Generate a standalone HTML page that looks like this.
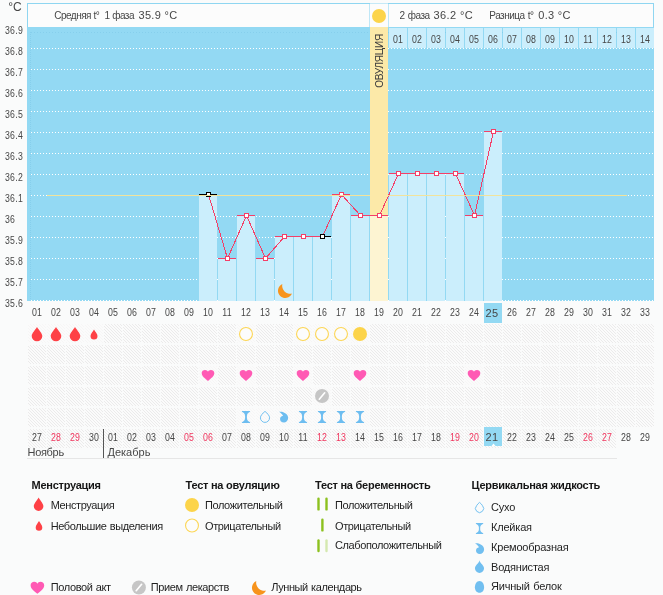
<!DOCTYPE html>
<html><head><meta charset="utf-8"><style>
html,body{margin:0;padding:0;}
body{width:663px;height:595px;overflow:hidden;background:#fafbfb;position:relative;font-family:"Liberation Sans", sans-serif;}
svg{position:absolute;left:0;top:0;}
.t{position:absolute;white-space:nowrap;line-height:1;}
#tx{position:absolute;left:0;top:0;width:663px;height:595px;will-change:transform;}
</style></head><body>
<svg width="663" height="595" viewBox="0 0 663 595" shape-rendering="auto">
<rect x="27" y="3" width="627" height="25" fill="#8fd6f1" />
<rect x="28" y="4" width="341" height="23" fill="#fcfcfc" />
<rect x="370" y="4" width="18" height="23" fill="#fcfcfc" />
<rect x="389" y="4" width="264" height="23" fill="#fcfcfc" />
<rect x="369" y="4" width="1" height="23" fill="#bfe7f7" />
<rect x="388" y="4" width="1" height="23" fill="#bfe7f7" />
<rect x="370" y="3" width="18" height="1" fill="#c5e9f7" />
<rect x="27" y="27" width="627" height="274" fill="#93d9f3" />
<line x1="30.5" y1="32" x2="30.5" y2="300" stroke="#86cfec" stroke-dasharray="1 1" />
<line x1="31" y1="32.5" x2="654" y2="32.5" stroke="#86cfec" stroke-dasharray="1 2" />
<line x1="31" y1="48.5" x2="654" y2="48.5" stroke="#ffffff" stroke-dasharray="1 2" />
<line x1="31" y1="69.5" x2="654" y2="69.5" stroke="#ffffff" stroke-dasharray="1 2" />
<line x1="31" y1="90.5" x2="654" y2="90.5" stroke="#ffffff" stroke-dasharray="1 2" />
<line x1="31" y1="111.5" x2="654" y2="111.5" stroke="#ffffff" stroke-dasharray="1 2" />
<line x1="31" y1="132.5" x2="654" y2="132.5" stroke="#ffffff" stroke-dasharray="1 2" />
<line x1="31" y1="153.5" x2="654" y2="153.5" stroke="#ffffff" stroke-dasharray="1 2" />
<line x1="31" y1="174.5" x2="654" y2="174.5" stroke="#ffffff" stroke-dasharray="1 2" />
<line x1="31" y1="195.5" x2="654" y2="195.5" stroke="#ffffff" stroke-dasharray="1 2" />
<line x1="31" y1="216.5" x2="654" y2="216.5" stroke="#ffffff" stroke-dasharray="1 2" />
<line x1="31" y1="237.5" x2="654" y2="237.5" stroke="#ffffff" stroke-dasharray="1 2" />
<line x1="31" y1="258.5" x2="654" y2="258.5" stroke="#ffffff" stroke-dasharray="1 2" />
<line x1="31" y1="279.5" x2="654" y2="279.5" stroke="#ffffff" stroke-dasharray="1 2" />
<line x1="31" y1="300.5" x2="654" y2="300.5" stroke="#ffffff" stroke-dasharray="1 2" />
<rect x="389" y="28" width="18" height="20" fill="#cbeefc" />
<rect x="408" y="28" width="18" height="20" fill="#cbeefc" />
<rect x="427" y="28" width="18" height="20" fill="#cbeefc" />
<rect x="446" y="28" width="18" height="20" fill="#cbeefc" />
<rect x="465" y="28" width="18" height="20" fill="#cbeefc" />
<rect x="484" y="28" width="18" height="20" fill="#cbeefc" />
<rect x="503" y="28" width="18" height="20" fill="#cbeefc" />
<rect x="522" y="28" width="18" height="20" fill="#cbeefc" />
<rect x="541" y="28" width="18" height="20" fill="#cbeefc" />
<rect x="560" y="28" width="18" height="20" fill="#cbeefc" />
<rect x="579" y="28" width="18" height="20" fill="#cbeefc" />
<rect x="598" y="28" width="18" height="20" fill="#cbeefc" />
<rect x="617" y="28" width="18" height="20" fill="#cbeefc" />
<rect x="636" y="28" width="18" height="20" fill="#cbeefc" />
<rect x="370" y="27" width="18" height="274" fill="#fce9a8" />
<rect x="199" y="195" width="18" height="106" fill="#cbeefc" />
<rect x="218" y="259" width="18" height="42" fill="#cbeefc" />
<rect x="237" y="216" width="18" height="85" fill="#cbeefc" />
<rect x="256" y="259" width="18" height="42" fill="#cbeefc" />
<rect x="275" y="237" width="18" height="64" fill="#cbeefc" />
<rect x="294" y="237" width="18" height="64" fill="#cbeefc" />
<rect x="313" y="237" width="18" height="64" fill="#cbeefc" />
<rect x="332" y="195" width="18" height="106" fill="#cbeefc" />
<rect x="351" y="216" width="18" height="85" fill="#cbeefc" />
<rect x="370" y="216" width="18" height="85" fill="#fdf4d2" />
<rect x="389" y="174" width="18" height="127" fill="#cbeefc" />
<rect x="408" y="174" width="18" height="127" fill="#cbeefc" />
<rect x="427" y="174" width="18" height="127" fill="#cbeefc" />
<rect x="446" y="174" width="18" height="127" fill="#cbeefc" />
<rect x="465" y="216" width="18" height="85" fill="#cbeefc" />
<rect x="484" y="132" width="18" height="169" fill="#cbeefc" />
<rect x="199" y="194" width="18" height="1" fill="#000" />
<rect x="218" y="258" width="18" height="1" fill="#f43f68" />
<rect x="237" y="215" width="18" height="1" fill="#f43f68" />
<rect x="256" y="258" width="18" height="1" fill="#f43f68" />
<rect x="275" y="236" width="18" height="1" fill="#f43f68" />
<rect x="294" y="236" width="18" height="1" fill="#f43f68" />
<rect x="313" y="236" width="18" height="1" fill="#000" />
<rect x="332" y="194" width="18" height="1" fill="#f43f68" />
<rect x="351" y="215" width="18" height="1" fill="#f43f68" />
<rect x="370" y="215" width="18" height="1" fill="#f43f68" />
<rect x="389" y="173" width="18" height="1" fill="#f43f68" />
<rect x="408" y="173" width="18" height="1" fill="#f43f68" />
<rect x="427" y="173" width="18" height="1" fill="#f43f68" />
<rect x="446" y="173" width="18" height="1" fill="#f43f68" />
<rect x="465" y="215" width="18" height="1" fill="#f43f68" />
<rect x="484" y="131" width="18" height="1" fill="#f43f68" />
<polyline points="208.5,194.5 227.5,258.5 246.5,215.5 265.5,258.5 284.5,236.5 303.5,236.5 322.5,236.5 341.5,194.5 360.5,215.5 379.5,215.5 398.5,173.5 417.5,173.5 436.5,173.5 455.5,173.5 474.5,215.5 493.5,131.5" fill="none" stroke="#f43f68" stroke-width="1" shape-rendering="crispEdges"/>
<rect x="206.5" y="192.5" width="4" height="4" fill="#fff" stroke="#000" stroke-width="1"/>
<rect x="225.5" y="256.5" width="4" height="4" fill="#fff" stroke="#f43f68" stroke-width="1"/>
<rect x="244.5" y="213.5" width="4" height="4" fill="#fff" stroke="#f43f68" stroke-width="1"/>
<rect x="263.5" y="256.5" width="4" height="4" fill="#fff" stroke="#f43f68" stroke-width="1"/>
<rect x="282.5" y="234.5" width="4" height="4" fill="#fff" stroke="#f43f68" stroke-width="1"/>
<rect x="301.5" y="234.5" width="4" height="4" fill="#fff" stroke="#f43f68" stroke-width="1"/>
<rect x="320.5" y="234.5" width="4" height="4" fill="#fff" stroke="#000" stroke-width="1"/>
<rect x="339.5" y="192.5" width="4" height="4" fill="#fff" stroke="#f43f68" stroke-width="1"/>
<rect x="358.5" y="213.5" width="4" height="4" fill="#fff" stroke="#f43f68" stroke-width="1"/>
<rect x="377.5" y="213.5" width="4" height="4" fill="#fff" stroke="#f43f68" stroke-width="1"/>
<rect x="396.5" y="171.5" width="4" height="4" fill="#fff" stroke="#f43f68" stroke-width="1"/>
<rect x="415.5" y="171.5" width="4" height="4" fill="#fff" stroke="#f43f68" stroke-width="1"/>
<rect x="434.5" y="171.5" width="4" height="4" fill="#fff" stroke="#f43f68" stroke-width="1"/>
<rect x="453.5" y="171.5" width="4" height="4" fill="#fff" stroke="#f43f68" stroke-width="1"/>
<rect x="472.5" y="213.5" width="4" height="4" fill="#fff" stroke="#f43f68" stroke-width="1"/>
<rect x="491.5" y="129.5" width="4" height="4" fill="#fff" stroke="#f43f68" stroke-width="1"/>
<rect x="47" y="195" width="323" height="1" fill="#f2e39b" />
<rect x="388" y="195" width="239" height="1" fill="#f2e39b" />
<path d="M282.30,284.00 A7.3,7.3 0 1 0 292.00,293.50 A8.1,8.1 0 0 1 282.30,284.00 Z" fill="#f7941d"/>
<rect x="484" y="303" width="18" height="20" fill="#93d9f3" />
<defs><pattern id="hp" x="0" y="0" width="3" height="3" patternUnits="userSpaceOnUse"><rect x="0" y="0" width="3" height="3" fill="#fbfbfb"/><rect x="0" y="0" width="1" height="1" fill="#ebebeb"/><rect x="1" y="1" width="1" height="1" fill="#ebebeb"/><rect x="2" y="2" width="1" height="1" fill="#ebebeb"/></pattern></defs>
<defs><pattern id="hp2" x="0" y="0" width="3" height="3" patternUnits="userSpaceOnUse"><rect x="0" y="0" width="3" height="3" fill="#fbfbfb"/><rect x="0" y="0" width="1" height="1" fill="#f6f6f6"/><rect x="1" y="1" width="1" height="1" fill="#f6f6f6"/><rect x="2" y="2" width="1" height="1" fill="#f6f6f6"/></pattern></defs>
<rect x="28" y="324" width="18" height="19" fill="url(#hp2)" shape-rendering="crispEdges"/>
<rect x="47" y="324" width="18" height="19" fill="url(#hp2)" shape-rendering="crispEdges"/>
<rect x="66" y="324" width="18" height="19" fill="url(#hp2)" shape-rendering="crispEdges"/>
<rect x="85" y="324" width="18" height="19" fill="url(#hp2)" shape-rendering="crispEdges"/>
<rect x="104" y="324" width="18" height="19" fill="url(#hp)" shape-rendering="crispEdges"/>
<rect x="123" y="324" width="18" height="19" fill="url(#hp)" shape-rendering="crispEdges"/>
<rect x="142" y="324" width="18" height="19" fill="url(#hp)" shape-rendering="crispEdges"/>
<rect x="161" y="324" width="18" height="19" fill="url(#hp)" shape-rendering="crispEdges"/>
<rect x="180" y="324" width="18" height="19" fill="url(#hp)" shape-rendering="crispEdges"/>
<rect x="199" y="324" width="18" height="19" fill="url(#hp)" shape-rendering="crispEdges"/>
<rect x="218" y="324" width="18" height="19" fill="url(#hp)" shape-rendering="crispEdges"/>
<rect x="237" y="324" width="18" height="19" fill="url(#hp2)" shape-rendering="crispEdges"/>
<rect x="256" y="324" width="18" height="19" fill="url(#hp)" shape-rendering="crispEdges"/>
<rect x="275" y="324" width="18" height="19" fill="url(#hp)" shape-rendering="crispEdges"/>
<rect x="294" y="324" width="18" height="19" fill="url(#hp2)" shape-rendering="crispEdges"/>
<rect x="313" y="324" width="18" height="19" fill="url(#hp2)" shape-rendering="crispEdges"/>
<rect x="332" y="324" width="18" height="19" fill="url(#hp2)" shape-rendering="crispEdges"/>
<rect x="351" y="324" width="18" height="19" fill="url(#hp2)" shape-rendering="crispEdges"/>
<rect x="370" y="324" width="18" height="19" fill="url(#hp)" shape-rendering="crispEdges"/>
<rect x="389" y="324" width="18" height="19" fill="url(#hp)" shape-rendering="crispEdges"/>
<rect x="408" y="324" width="18" height="19" fill="url(#hp)" shape-rendering="crispEdges"/>
<rect x="427" y="324" width="18" height="19" fill="url(#hp)" shape-rendering="crispEdges"/>
<rect x="446" y="324" width="18" height="19" fill="url(#hp)" shape-rendering="crispEdges"/>
<rect x="465" y="324" width="18" height="19" fill="url(#hp)" shape-rendering="crispEdges"/>
<rect x="484" y="324" width="18" height="19" fill="url(#hp)" shape-rendering="crispEdges"/>
<rect x="503" y="324" width="18" height="19" fill="url(#hp)" shape-rendering="crispEdges"/>
<rect x="522" y="324" width="18" height="19" fill="url(#hp)" shape-rendering="crispEdges"/>
<rect x="541" y="324" width="18" height="19" fill="url(#hp)" shape-rendering="crispEdges"/>
<rect x="560" y="324" width="18" height="19" fill="url(#hp)" shape-rendering="crispEdges"/>
<rect x="579" y="324" width="18" height="19" fill="url(#hp)" shape-rendering="crispEdges"/>
<rect x="598" y="324" width="18" height="19" fill="url(#hp)" shape-rendering="crispEdges"/>
<rect x="617" y="324" width="18" height="19" fill="url(#hp)" shape-rendering="crispEdges"/>
<rect x="636" y="324" width="18" height="19" fill="url(#hp)" shape-rendering="crispEdges"/>
<rect x="28" y="345" width="18" height="19" fill="url(#hp)" shape-rendering="crispEdges"/>
<rect x="47" y="345" width="18" height="19" fill="url(#hp)" shape-rendering="crispEdges"/>
<rect x="66" y="345" width="18" height="19" fill="url(#hp)" shape-rendering="crispEdges"/>
<rect x="85" y="345" width="18" height="19" fill="url(#hp)" shape-rendering="crispEdges"/>
<rect x="104" y="345" width="18" height="19" fill="url(#hp)" shape-rendering="crispEdges"/>
<rect x="123" y="345" width="18" height="19" fill="url(#hp)" shape-rendering="crispEdges"/>
<rect x="142" y="345" width="18" height="19" fill="url(#hp)" shape-rendering="crispEdges"/>
<rect x="161" y="345" width="18" height="19" fill="url(#hp)" shape-rendering="crispEdges"/>
<rect x="180" y="345" width="18" height="19" fill="url(#hp)" shape-rendering="crispEdges"/>
<rect x="199" y="345" width="18" height="19" fill="url(#hp)" shape-rendering="crispEdges"/>
<rect x="218" y="345" width="18" height="19" fill="url(#hp)" shape-rendering="crispEdges"/>
<rect x="237" y="345" width="18" height="19" fill="url(#hp)" shape-rendering="crispEdges"/>
<rect x="256" y="345" width="18" height="19" fill="url(#hp)" shape-rendering="crispEdges"/>
<rect x="275" y="345" width="18" height="19" fill="url(#hp)" shape-rendering="crispEdges"/>
<rect x="294" y="345" width="18" height="19" fill="url(#hp)" shape-rendering="crispEdges"/>
<rect x="313" y="345" width="18" height="19" fill="url(#hp)" shape-rendering="crispEdges"/>
<rect x="332" y="345" width="18" height="19" fill="url(#hp)" shape-rendering="crispEdges"/>
<rect x="351" y="345" width="18" height="19" fill="url(#hp)" shape-rendering="crispEdges"/>
<rect x="370" y="345" width="18" height="19" fill="url(#hp)" shape-rendering="crispEdges"/>
<rect x="389" y="345" width="18" height="19" fill="url(#hp)" shape-rendering="crispEdges"/>
<rect x="408" y="345" width="18" height="19" fill="url(#hp)" shape-rendering="crispEdges"/>
<rect x="427" y="345" width="18" height="19" fill="url(#hp)" shape-rendering="crispEdges"/>
<rect x="446" y="345" width="18" height="19" fill="url(#hp)" shape-rendering="crispEdges"/>
<rect x="465" y="345" width="18" height="19" fill="url(#hp)" shape-rendering="crispEdges"/>
<rect x="484" y="345" width="18" height="19" fill="url(#hp)" shape-rendering="crispEdges"/>
<rect x="503" y="345" width="18" height="19" fill="url(#hp)" shape-rendering="crispEdges"/>
<rect x="522" y="345" width="18" height="19" fill="url(#hp)" shape-rendering="crispEdges"/>
<rect x="541" y="345" width="18" height="19" fill="url(#hp)" shape-rendering="crispEdges"/>
<rect x="560" y="345" width="18" height="19" fill="url(#hp)" shape-rendering="crispEdges"/>
<rect x="579" y="345" width="18" height="19" fill="url(#hp)" shape-rendering="crispEdges"/>
<rect x="598" y="345" width="18" height="19" fill="url(#hp)" shape-rendering="crispEdges"/>
<rect x="617" y="345" width="18" height="19" fill="url(#hp)" shape-rendering="crispEdges"/>
<rect x="636" y="345" width="18" height="19" fill="url(#hp)" shape-rendering="crispEdges"/>
<rect x="28" y="366" width="18" height="19" fill="url(#hp)" shape-rendering="crispEdges"/>
<rect x="47" y="366" width="18" height="19" fill="url(#hp)" shape-rendering="crispEdges"/>
<rect x="66" y="366" width="18" height="19" fill="url(#hp)" shape-rendering="crispEdges"/>
<rect x="85" y="366" width="18" height="19" fill="url(#hp)" shape-rendering="crispEdges"/>
<rect x="104" y="366" width="18" height="19" fill="url(#hp)" shape-rendering="crispEdges"/>
<rect x="123" y="366" width="18" height="19" fill="url(#hp)" shape-rendering="crispEdges"/>
<rect x="142" y="366" width="18" height="19" fill="url(#hp)" shape-rendering="crispEdges"/>
<rect x="161" y="366" width="18" height="19" fill="url(#hp)" shape-rendering="crispEdges"/>
<rect x="180" y="366" width="18" height="19" fill="url(#hp)" shape-rendering="crispEdges"/>
<rect x="199" y="366" width="18" height="19" fill="url(#hp2)" shape-rendering="crispEdges"/>
<rect x="218" y="366" width="18" height="19" fill="url(#hp)" shape-rendering="crispEdges"/>
<rect x="237" y="366" width="18" height="19" fill="url(#hp2)" shape-rendering="crispEdges"/>
<rect x="256" y="366" width="18" height="19" fill="url(#hp)" shape-rendering="crispEdges"/>
<rect x="275" y="366" width="18" height="19" fill="url(#hp)" shape-rendering="crispEdges"/>
<rect x="294" y="366" width="18" height="19" fill="url(#hp2)" shape-rendering="crispEdges"/>
<rect x="313" y="366" width="18" height="19" fill="url(#hp)" shape-rendering="crispEdges"/>
<rect x="332" y="366" width="18" height="19" fill="url(#hp)" shape-rendering="crispEdges"/>
<rect x="351" y="366" width="18" height="19" fill="url(#hp2)" shape-rendering="crispEdges"/>
<rect x="370" y="366" width="18" height="19" fill="url(#hp)" shape-rendering="crispEdges"/>
<rect x="389" y="366" width="18" height="19" fill="url(#hp)" shape-rendering="crispEdges"/>
<rect x="408" y="366" width="18" height="19" fill="url(#hp)" shape-rendering="crispEdges"/>
<rect x="427" y="366" width="18" height="19" fill="url(#hp)" shape-rendering="crispEdges"/>
<rect x="446" y="366" width="18" height="19" fill="url(#hp)" shape-rendering="crispEdges"/>
<rect x="465" y="366" width="18" height="19" fill="url(#hp2)" shape-rendering="crispEdges"/>
<rect x="484" y="366" width="18" height="19" fill="url(#hp)" shape-rendering="crispEdges"/>
<rect x="503" y="366" width="18" height="19" fill="url(#hp)" shape-rendering="crispEdges"/>
<rect x="522" y="366" width="18" height="19" fill="url(#hp)" shape-rendering="crispEdges"/>
<rect x="541" y="366" width="18" height="19" fill="url(#hp)" shape-rendering="crispEdges"/>
<rect x="560" y="366" width="18" height="19" fill="url(#hp)" shape-rendering="crispEdges"/>
<rect x="579" y="366" width="18" height="19" fill="url(#hp)" shape-rendering="crispEdges"/>
<rect x="598" y="366" width="18" height="19" fill="url(#hp)" shape-rendering="crispEdges"/>
<rect x="617" y="366" width="18" height="19" fill="url(#hp)" shape-rendering="crispEdges"/>
<rect x="636" y="366" width="18" height="19" fill="url(#hp)" shape-rendering="crispEdges"/>
<rect x="28" y="387" width="18" height="19" fill="url(#hp)" shape-rendering="crispEdges"/>
<rect x="47" y="387" width="18" height="19" fill="url(#hp)" shape-rendering="crispEdges"/>
<rect x="66" y="387" width="18" height="19" fill="url(#hp)" shape-rendering="crispEdges"/>
<rect x="85" y="387" width="18" height="19" fill="url(#hp)" shape-rendering="crispEdges"/>
<rect x="104" y="387" width="18" height="19" fill="url(#hp)" shape-rendering="crispEdges"/>
<rect x="123" y="387" width="18" height="19" fill="url(#hp)" shape-rendering="crispEdges"/>
<rect x="142" y="387" width="18" height="19" fill="url(#hp)" shape-rendering="crispEdges"/>
<rect x="161" y="387" width="18" height="19" fill="url(#hp)" shape-rendering="crispEdges"/>
<rect x="180" y="387" width="18" height="19" fill="url(#hp)" shape-rendering="crispEdges"/>
<rect x="199" y="387" width="18" height="19" fill="url(#hp)" shape-rendering="crispEdges"/>
<rect x="218" y="387" width="18" height="19" fill="url(#hp)" shape-rendering="crispEdges"/>
<rect x="237" y="387" width="18" height="19" fill="url(#hp)" shape-rendering="crispEdges"/>
<rect x="256" y="387" width="18" height="19" fill="url(#hp)" shape-rendering="crispEdges"/>
<rect x="275" y="387" width="18" height="19" fill="url(#hp)" shape-rendering="crispEdges"/>
<rect x="294" y="387" width="18" height="19" fill="url(#hp)" shape-rendering="crispEdges"/>
<rect x="313" y="387" width="18" height="19" fill="url(#hp2)" shape-rendering="crispEdges"/>
<rect x="332" y="387" width="18" height="19" fill="url(#hp)" shape-rendering="crispEdges"/>
<rect x="351" y="387" width="18" height="19" fill="url(#hp)" shape-rendering="crispEdges"/>
<rect x="370" y="387" width="18" height="19" fill="url(#hp)" shape-rendering="crispEdges"/>
<rect x="389" y="387" width="18" height="19" fill="url(#hp)" shape-rendering="crispEdges"/>
<rect x="408" y="387" width="18" height="19" fill="url(#hp)" shape-rendering="crispEdges"/>
<rect x="427" y="387" width="18" height="19" fill="url(#hp)" shape-rendering="crispEdges"/>
<rect x="446" y="387" width="18" height="19" fill="url(#hp)" shape-rendering="crispEdges"/>
<rect x="465" y="387" width="18" height="19" fill="url(#hp)" shape-rendering="crispEdges"/>
<rect x="484" y="387" width="18" height="19" fill="url(#hp)" shape-rendering="crispEdges"/>
<rect x="503" y="387" width="18" height="19" fill="url(#hp)" shape-rendering="crispEdges"/>
<rect x="522" y="387" width="18" height="19" fill="url(#hp)" shape-rendering="crispEdges"/>
<rect x="541" y="387" width="18" height="19" fill="url(#hp)" shape-rendering="crispEdges"/>
<rect x="560" y="387" width="18" height="19" fill="url(#hp)" shape-rendering="crispEdges"/>
<rect x="579" y="387" width="18" height="19" fill="url(#hp)" shape-rendering="crispEdges"/>
<rect x="598" y="387" width="18" height="19" fill="url(#hp)" shape-rendering="crispEdges"/>
<rect x="617" y="387" width="18" height="19" fill="url(#hp)" shape-rendering="crispEdges"/>
<rect x="636" y="387" width="18" height="19" fill="url(#hp)" shape-rendering="crispEdges"/>
<rect x="28" y="408" width="18" height="19" fill="url(#hp)" shape-rendering="crispEdges"/>
<rect x="47" y="408" width="18" height="19" fill="url(#hp)" shape-rendering="crispEdges"/>
<rect x="66" y="408" width="18" height="19" fill="url(#hp)" shape-rendering="crispEdges"/>
<rect x="85" y="408" width="18" height="19" fill="url(#hp)" shape-rendering="crispEdges"/>
<rect x="104" y="408" width="18" height="19" fill="url(#hp)" shape-rendering="crispEdges"/>
<rect x="123" y="408" width="18" height="19" fill="url(#hp)" shape-rendering="crispEdges"/>
<rect x="142" y="408" width="18" height="19" fill="url(#hp)" shape-rendering="crispEdges"/>
<rect x="161" y="408" width="18" height="19" fill="url(#hp)" shape-rendering="crispEdges"/>
<rect x="180" y="408" width="18" height="19" fill="url(#hp)" shape-rendering="crispEdges"/>
<rect x="199" y="408" width="18" height="19" fill="url(#hp)" shape-rendering="crispEdges"/>
<rect x="218" y="408" width="18" height="19" fill="url(#hp)" shape-rendering="crispEdges"/>
<rect x="237" y="408" width="18" height="19" fill="url(#hp2)" shape-rendering="crispEdges"/>
<rect x="256" y="408" width="18" height="19" fill="url(#hp2)" shape-rendering="crispEdges"/>
<rect x="275" y="408" width="18" height="19" fill="url(#hp2)" shape-rendering="crispEdges"/>
<rect x="294" y="408" width="18" height="19" fill="url(#hp2)" shape-rendering="crispEdges"/>
<rect x="313" y="408" width="18" height="19" fill="url(#hp2)" shape-rendering="crispEdges"/>
<rect x="332" y="408" width="18" height="19" fill="url(#hp2)" shape-rendering="crispEdges"/>
<rect x="351" y="408" width="18" height="19" fill="url(#hp2)" shape-rendering="crispEdges"/>
<rect x="370" y="408" width="18" height="19" fill="url(#hp)" shape-rendering="crispEdges"/>
<rect x="389" y="408" width="18" height="19" fill="url(#hp)" shape-rendering="crispEdges"/>
<rect x="408" y="408" width="18" height="19" fill="url(#hp)" shape-rendering="crispEdges"/>
<rect x="427" y="408" width="18" height="19" fill="url(#hp)" shape-rendering="crispEdges"/>
<rect x="446" y="408" width="18" height="19" fill="url(#hp)" shape-rendering="crispEdges"/>
<rect x="465" y="408" width="18" height="19" fill="url(#hp)" shape-rendering="crispEdges"/>
<rect x="484" y="408" width="18" height="19" fill="url(#hp)" shape-rendering="crispEdges"/>
<rect x="503" y="408" width="18" height="19" fill="url(#hp)" shape-rendering="crispEdges"/>
<rect x="522" y="408" width="18" height="19" fill="url(#hp)" shape-rendering="crispEdges"/>
<rect x="541" y="408" width="18" height="19" fill="url(#hp)" shape-rendering="crispEdges"/>
<rect x="560" y="408" width="18" height="19" fill="url(#hp)" shape-rendering="crispEdges"/>
<rect x="579" y="408" width="18" height="19" fill="url(#hp)" shape-rendering="crispEdges"/>
<rect x="598" y="408" width="18" height="19" fill="url(#hp)" shape-rendering="crispEdges"/>
<rect x="617" y="408" width="18" height="19" fill="url(#hp)" shape-rendering="crispEdges"/>
<rect x="636" y="408" width="18" height="19" fill="url(#hp)" shape-rendering="crispEdges"/>
<rect x="28" y="429" width="18" height="19" fill="url(#hp)" shape-rendering="crispEdges"/>
<rect x="47" y="429" width="18" height="19" fill="url(#hp)" shape-rendering="crispEdges"/>
<rect x="66" y="429" width="18" height="19" fill="url(#hp)" shape-rendering="crispEdges"/>
<rect x="85" y="429" width="18" height="19" fill="url(#hp)" shape-rendering="crispEdges"/>
<rect x="104" y="429" width="18" height="19" fill="url(#hp)" shape-rendering="crispEdges"/>
<rect x="123" y="429" width="18" height="19" fill="url(#hp)" shape-rendering="crispEdges"/>
<rect x="142" y="429" width="18" height="19" fill="url(#hp)" shape-rendering="crispEdges"/>
<rect x="161" y="429" width="18" height="19" fill="url(#hp)" shape-rendering="crispEdges"/>
<rect x="180" y="429" width="18" height="19" fill="url(#hp)" shape-rendering="crispEdges"/>
<rect x="199" y="429" width="18" height="19" fill="url(#hp)" shape-rendering="crispEdges"/>
<rect x="218" y="429" width="18" height="19" fill="url(#hp)" shape-rendering="crispEdges"/>
<rect x="237" y="429" width="18" height="19" fill="url(#hp)" shape-rendering="crispEdges"/>
<rect x="256" y="429" width="18" height="19" fill="url(#hp)" shape-rendering="crispEdges"/>
<rect x="275" y="429" width="18" height="19" fill="url(#hp)" shape-rendering="crispEdges"/>
<rect x="294" y="429" width="18" height="19" fill="url(#hp)" shape-rendering="crispEdges"/>
<rect x="313" y="429" width="18" height="19" fill="url(#hp)" shape-rendering="crispEdges"/>
<rect x="332" y="429" width="18" height="19" fill="url(#hp)" shape-rendering="crispEdges"/>
<rect x="351" y="429" width="18" height="19" fill="url(#hp)" shape-rendering="crispEdges"/>
<rect x="370" y="429" width="18" height="19" fill="url(#hp)" shape-rendering="crispEdges"/>
<rect x="389" y="429" width="18" height="19" fill="url(#hp)" shape-rendering="crispEdges"/>
<rect x="408" y="429" width="18" height="19" fill="url(#hp)" shape-rendering="crispEdges"/>
<rect x="427" y="429" width="18" height="19" fill="url(#hp)" shape-rendering="crispEdges"/>
<rect x="446" y="429" width="18" height="19" fill="url(#hp)" shape-rendering="crispEdges"/>
<rect x="465" y="429" width="18" height="19" fill="url(#hp)" shape-rendering="crispEdges"/>
<rect x="484" y="429" width="18" height="19" fill="url(#hp)" shape-rendering="crispEdges"/>
<rect x="503" y="429" width="18" height="19" fill="url(#hp)" shape-rendering="crispEdges"/>
<rect x="522" y="429" width="18" height="19" fill="url(#hp)" shape-rendering="crispEdges"/>
<rect x="541" y="429" width="18" height="19" fill="url(#hp)" shape-rendering="crispEdges"/>
<rect x="560" y="429" width="18" height="19" fill="url(#hp)" shape-rendering="crispEdges"/>
<rect x="579" y="429" width="18" height="19" fill="url(#hp)" shape-rendering="crispEdges"/>
<rect x="598" y="429" width="18" height="19" fill="url(#hp)" shape-rendering="crispEdges"/>
<path d="M37,326.90000000000003 C38.855,330.06800000000004 42.3,333.085 42.3,336.0 A5.3,5.3 0 0 1 31.7,336.0 C31.7,333.085 35.145,330.06800000000004 37,326.90000000000003 Z" fill="#fe4146"/>
<path d="M56,326.90000000000003 C57.855,330.06800000000004 61.3,333.085 61.3,336.0 A5.3,5.3 0 0 1 50.7,336.0 C50.7,333.085 54.145,330.06800000000004 56,326.90000000000003 Z" fill="#fe4146"/>
<path d="M75,326.90000000000003 C76.855,330.06800000000004 80.3,333.085 80.3,336.0 A5.3,5.3 0 0 1 69.7,336.0 C69.7,333.085 73.145,330.06800000000004 75,326.90000000000003 Z" fill="#fe4146"/>
<path d="M94,329.4 C95.225,331.59999999999997 97.5,333.97499999999997 97.5,335.9 A3.5,3.5 0 0 1 90.5,335.9 C90.5,333.97499999999997 92.775,331.59999999999997 94,329.4 Z" fill="#fe4146"/>
<circle cx="246" cy="334" r="6.45" fill="#fcfcfc" stroke="#fcd655" stroke-width="1.1"/>
<circle cx="303" cy="334" r="6.45" fill="#fcfcfc" stroke="#fcd655" stroke-width="1.1"/>
<circle cx="322" cy="334" r="6.45" fill="#fcfcfc" stroke="#fcd655" stroke-width="1.1"/>
<circle cx="341" cy="334" r="6.45" fill="#fcfcfc" stroke="#fcd655" stroke-width="1.1"/>
<circle cx="360" cy="334" r="7" fill="#fcd44a"/>
<path d="M208.00,380.90 C204.85,378.40 201.70,376.40 201.70,373.10 C201.70,371.10 203.27,369.90 205.06,369.90 C206.53,369.90 207.58,370.70 208.00,371.70 C208.42,370.70 209.47,369.90 210.94,369.90 C212.72,369.90 214.30,371.10 214.30,373.10 C214.30,376.40 211.15,378.40 208.00,380.90 Z" fill="#ff5ab4"/>
<path d="M246.00,380.90 C242.85,378.40 239.70,376.40 239.70,373.10 C239.70,371.10 241.27,369.90 243.06,369.90 C244.53,369.90 245.58,370.70 246.00,371.70 C246.42,370.70 247.47,369.90 248.94,369.90 C250.72,369.90 252.30,371.10 252.30,373.10 C252.30,376.40 249.15,378.40 246.00,380.90 Z" fill="#ff5ab4"/>
<path d="M303.00,380.90 C299.85,378.40 296.70,376.40 296.70,373.10 C296.70,371.10 298.27,369.90 300.06,369.90 C301.53,369.90 302.58,370.70 303.00,371.70 C303.42,370.70 304.47,369.90 305.94,369.90 C307.72,369.90 309.30,371.10 309.30,373.10 C309.30,376.40 306.15,378.40 303.00,380.90 Z" fill="#ff5ab4"/>
<path d="M360.00,380.90 C356.85,378.40 353.70,376.40 353.70,373.10 C353.70,371.10 355.27,369.90 357.06,369.90 C358.53,369.90 359.58,370.70 360.00,371.70 C360.42,370.70 361.47,369.90 362.94,369.90 C364.72,369.90 366.30,371.10 366.30,373.10 C366.30,376.40 363.15,378.40 360.00,380.90 Z" fill="#ff5ab4"/>
<path d="M474.00,380.90 C470.85,378.40 467.70,376.40 467.70,373.10 C467.70,371.10 469.27,369.90 471.06,369.90 C472.53,369.90 473.58,370.70 474.00,371.70 C474.42,370.70 475.47,369.90 476.94,369.90 C478.72,369.90 480.30,371.10 480.30,373.10 C480.30,376.40 477.15,378.40 474.00,380.90 Z" fill="#ff5ab4"/>
<circle cx="322" cy="396" r="7" fill="#c6c6c6"/><line x1="319.3" y1="399.2" x2="324.7" y2="392.8" stroke="#fff" stroke-width="1.7" stroke-linecap="round"/>
<path d="M241.90,411.00 L250.10,411.00 L250.10,411.80 C248.30,412.50 247.00,413.80 246.90,415.80 L246.90,418.20 C247.00,420.20 248.30,421.50 250.10,422.20 L250.10,423.00 L241.90,423.00 L241.90,422.20 C243.70,421.50 245.00,420.20 245.10,418.20 L245.10,415.80 C245.00,413.80 243.70,412.50 241.90,411.80 Z" fill="#6dbdf0"/>
<path d="M298.90,411.00 L307.10,411.00 L307.10,411.80 C305.30,412.50 304.00,413.80 303.90,415.80 L303.90,418.20 C304.00,420.20 305.30,421.50 307.10,422.20 L307.10,423.00 L298.90,423.00 L298.90,422.20 C300.70,421.50 302.00,420.20 302.10,418.20 L302.10,415.80 C302.00,413.80 300.70,412.50 298.90,411.80 Z" fill="#6dbdf0"/>
<path d="M317.90,411.00 L326.10,411.00 L326.10,411.80 C324.30,412.50 323.00,413.80 322.90,415.80 L322.90,418.20 C323.00,420.20 324.30,421.50 326.10,422.20 L326.10,423.00 L317.90,423.00 L317.90,422.20 C319.70,421.50 321.00,420.20 321.10,418.20 L321.10,415.80 C321.00,413.80 319.70,412.50 317.90,411.80 Z" fill="#6dbdf0"/>
<path d="M336.90,411.00 L345.10,411.00 L345.10,411.80 C343.30,412.50 342.00,413.80 341.90,415.80 L341.90,418.20 C342.00,420.20 343.30,421.50 345.10,422.20 L345.10,423.00 L336.90,423.00 L336.90,422.20 C338.70,421.50 340.00,420.20 340.10,418.20 L340.10,415.80 C340.00,413.80 338.70,412.50 336.90,411.80 Z" fill="#6dbdf0"/>
<path d="M355.90,411.00 L364.10,411.00 L364.10,411.80 C362.30,412.50 361.00,413.80 360.90,415.80 L360.90,418.20 C361.00,420.20 362.30,421.50 364.10,422.20 L364.10,423.00 L355.90,423.00 L355.90,422.20 C357.70,421.50 359.00,420.20 359.10,418.20 L359.10,415.80 C359.00,413.80 357.70,412.50 355.90,411.80 Z" fill="#6dbdf0"/>
<path d="M265.00,411.40 Q267.03,412.84 268.22,414.64 A4.55,4.55 0 1 1 261.78,414.64 Q262.97,412.84 265.00,411.40 Z" fill="none" stroke="#74c2f1" stroke-width="1.0"/>
<path d="M279.05,411.70 C281.55,411.40 284.05,412.00 286.05,413.70 C287.55,415.00 288.15,416.50 288.15,418.00 C288.15,420.70 286.05,422.50 283.85,422.50 C281.55,422.50 280.05,421.00 280.05,419.00 C280.05,417.30 281.45,416.20 283.05,415.80 C282.05,414.20 280.55,412.30 279.05,411.70 Z" fill="#6dbdf0"/>
<rect x="484" y="427" width="18" height="19" fill="#93d9f3" />
<path d="M491.5,446 L493.5,443.5 L495.5,446 Z" fill="#fff"/>
<rect x="103" y="429" width="1" height="29" fill="#555" />
<rect x="27" y="458" width="590" height="1" fill="#e6e6e6" />
<circle cx="379" cy="16" r="7" fill="#fcd44a"/>
<path d="M38.6,497.4 C40.28,500.392 43.4,503.56 43.4,506.2 A4.8,4.8 0 0 1 33.800000000000004,506.2 C33.800000000000004,503.56 36.92,500.392 38.6,497.4 Z" fill="#fe4146"/>
<path d="M39,521.1 C40.155,523.212 42.3,525.5849999999999 42.3,527.4 A3.3,3.3 0 0 1 35.7,527.4 C35.7,525.5849999999999 37.845,523.212 39,521.1 Z" fill="#fe4146"/>
<circle cx="192" cy="505" r="7" fill="#fcd44a"/>
<circle cx="192" cy="525.5" r="6.45" fill="#fcfcfc" stroke="#fcd655" stroke-width="1.1"/>
<rect x="317.3" y="497.6" width="2.4" height="13" rx="1.2" fill="#8cc11f"/>
<rect x="325.3" y="497.6" width="2.4" height="13" rx="1.2" fill="#8cc11f"/>
<rect x="321.2" y="518.6" width="2.4" height="13" rx="1.2" fill="#8cc11f"/>
<rect x="317.3" y="539.3" width="2.4" height="13" rx="1.2" fill="#8cc11f"/>
<rect x="325.3" y="539.3" width="2.4" height="13" rx="1.2" fill="#d4e9b0"/>
<path d="M479.55,502.40 Q481.47,503.89 482.56,505.74 A4.05,4.05 0 1 1 476.54,505.74 Q477.63,503.89 479.55,502.40 Z" fill="none" stroke="#74c2f1" stroke-width="1.0"/>
<path d="M475.90,522.90 L483.20,522.90 L483.20,523.70 C481.40,524.40 480.30,525.70 480.20,527.38 L480.20,529.62 C480.30,531.30 481.40,532.60 483.20,533.30 L483.20,534.10 L475.90,534.10 L475.90,533.30 C477.70,532.60 478.80,531.30 478.90,529.62 L478.90,527.38 C478.80,525.70 477.70,524.40 475.90,523.70 Z" fill="#71bff0"/>
<path d="M475.00,543.20 C477.50,542.90 480.00,543.50 482.00,545.20 C483.50,546.50 484.10,548.00 484.10,549.50 C484.10,552.20 482.00,554.00 479.80,554.00 C477.50,554.00 476.00,552.50 476.00,550.50 C476.00,548.80 477.40,547.70 479.00,547.30 C478.00,545.70 476.50,543.80 475.00,543.20 Z" fill="#71bff0"/>
<path d="M479.50,560.20 C480.10,563.40 484.05,565.15 484.05,568.35 A4.55,4.55 0 0 1 474.95,568.35 C474.95,565.15 478.90,563.40 479.50,560.20 Z" fill="#71bff0"/>
<path d="M479.5,581 C482.3,581 484.1,584 484.1,587.3 C484.1,590.6 482.2,592.8 479.5,592.8 C476.8,592.8 474.9,590.6 474.9,587.3 C474.9,584 476.7,581 479.5,581 Z" fill="#71bff0"/>
<path d="M37.40,593.80 C34.00,591.07 30.60,588.89 30.60,585.29 C30.60,583.11 32.30,581.80 34.23,581.80 C35.81,581.80 36.95,582.67 37.40,583.76 C37.85,582.67 38.99,581.80 40.57,581.80 C42.50,581.80 44.20,583.11 44.20,585.29 C44.20,588.89 40.80,591.07 37.40,593.80 Z" fill="#ff5ab4"/>
<circle cx="138.9" cy="587.5" r="7" fill="#c6c6c6"/><line x1="136.20000000000002" y1="590.7" x2="141.6" y2="584.3" stroke="#fff" stroke-width="1.7" stroke-linecap="round"/>
<path d="M256.30,581.00 A7.3,7.3 0 1 0 266.00,590.50 A8.1,8.1 0 0 1 256.30,581.00 Z" fill="#f7941d"/>
</svg>
<div id="tx">
<div class="t" style="left:21.60px;width:30px;text-align:center;top:307.94px;font-size:10px;color:#464646;font-weight:normal;letter-spacing:0.2px;word-spacing:0px;transform:scaleX(0.88);transform-origin:50% 0">01</div>
<div class="t" style="left:40.60px;width:30px;text-align:center;top:307.94px;font-size:10px;color:#464646;font-weight:normal;letter-spacing:0.2px;word-spacing:0px;transform:scaleX(0.88);transform-origin:50% 0">02</div>
<div class="t" style="left:59.60px;width:30px;text-align:center;top:307.94px;font-size:10px;color:#464646;font-weight:normal;letter-spacing:0.2px;word-spacing:0px;transform:scaleX(0.88);transform-origin:50% 0">03</div>
<div class="t" style="left:78.60px;width:30px;text-align:center;top:307.94px;font-size:10px;color:#464646;font-weight:normal;letter-spacing:0.2px;word-spacing:0px;transform:scaleX(0.88);transform-origin:50% 0">04</div>
<div class="t" style="left:97.60px;width:30px;text-align:center;top:307.94px;font-size:10px;color:#464646;font-weight:normal;letter-spacing:0.2px;word-spacing:0px;transform:scaleX(0.88);transform-origin:50% 0">05</div>
<div class="t" style="left:116.60px;width:30px;text-align:center;top:307.94px;font-size:10px;color:#464646;font-weight:normal;letter-spacing:0.2px;word-spacing:0px;transform:scaleX(0.88);transform-origin:50% 0">06</div>
<div class="t" style="left:135.60px;width:30px;text-align:center;top:307.94px;font-size:10px;color:#464646;font-weight:normal;letter-spacing:0.2px;word-spacing:0px;transform:scaleX(0.88);transform-origin:50% 0">07</div>
<div class="t" style="left:154.60px;width:30px;text-align:center;top:307.94px;font-size:10px;color:#464646;font-weight:normal;letter-spacing:0.2px;word-spacing:0px;transform:scaleX(0.88);transform-origin:50% 0">08</div>
<div class="t" style="left:173.60px;width:30px;text-align:center;top:307.94px;font-size:10px;color:#464646;font-weight:normal;letter-spacing:0.2px;word-spacing:0px;transform:scaleX(0.88);transform-origin:50% 0">09</div>
<div class="t" style="left:192.60px;width:30px;text-align:center;top:307.94px;font-size:10px;color:#464646;font-weight:normal;letter-spacing:0.2px;word-spacing:0px;transform:scaleX(0.88);transform-origin:50% 0">10</div>
<div class="t" style="left:211.60px;width:30px;text-align:center;top:307.94px;font-size:10px;color:#464646;font-weight:normal;letter-spacing:0.2px;word-spacing:0px;transform:scaleX(0.88);transform-origin:50% 0">11</div>
<div class="t" style="left:230.60px;width:30px;text-align:center;top:307.94px;font-size:10px;color:#464646;font-weight:normal;letter-spacing:0.2px;word-spacing:0px;transform:scaleX(0.88);transform-origin:50% 0">12</div>
<div class="t" style="left:249.60px;width:30px;text-align:center;top:307.94px;font-size:10px;color:#464646;font-weight:normal;letter-spacing:0.2px;word-spacing:0px;transform:scaleX(0.88);transform-origin:50% 0">13</div>
<div class="t" style="left:268.60px;width:30px;text-align:center;top:307.94px;font-size:10px;color:#464646;font-weight:normal;letter-spacing:0.2px;word-spacing:0px;transform:scaleX(0.88);transform-origin:50% 0">14</div>
<div class="t" style="left:287.60px;width:30px;text-align:center;top:307.94px;font-size:10px;color:#464646;font-weight:normal;letter-spacing:0.2px;word-spacing:0px;transform:scaleX(0.88);transform-origin:50% 0">15</div>
<div class="t" style="left:306.60px;width:30px;text-align:center;top:307.94px;font-size:10px;color:#464646;font-weight:normal;letter-spacing:0.2px;word-spacing:0px;transform:scaleX(0.88);transform-origin:50% 0">16</div>
<div class="t" style="left:325.60px;width:30px;text-align:center;top:307.94px;font-size:10px;color:#464646;font-weight:normal;letter-spacing:0.2px;word-spacing:0px;transform:scaleX(0.88);transform-origin:50% 0">17</div>
<div class="t" style="left:344.60px;width:30px;text-align:center;top:307.94px;font-size:10px;color:#464646;font-weight:normal;letter-spacing:0.2px;word-spacing:0px;transform:scaleX(0.88);transform-origin:50% 0">18</div>
<div class="t" style="left:363.60px;width:30px;text-align:center;top:307.94px;font-size:10px;color:#464646;font-weight:normal;letter-spacing:0.2px;word-spacing:0px;transform:scaleX(0.88);transform-origin:50% 0">19</div>
<div class="t" style="left:382.60px;width:30px;text-align:center;top:307.94px;font-size:10px;color:#464646;font-weight:normal;letter-spacing:0.2px;word-spacing:0px;transform:scaleX(0.88);transform-origin:50% 0">20</div>
<div class="t" style="left:401.60px;width:30px;text-align:center;top:307.94px;font-size:10px;color:#464646;font-weight:normal;letter-spacing:0.2px;word-spacing:0px;transform:scaleX(0.88);transform-origin:50% 0">21</div>
<div class="t" style="left:420.60px;width:30px;text-align:center;top:307.94px;font-size:10px;color:#464646;font-weight:normal;letter-spacing:0.2px;word-spacing:0px;transform:scaleX(0.88);transform-origin:50% 0">22</div>
<div class="t" style="left:439.60px;width:30px;text-align:center;top:307.94px;font-size:10px;color:#464646;font-weight:normal;letter-spacing:0.2px;word-spacing:0px;transform:scaleX(0.88);transform-origin:50% 0">23</div>
<div class="t" style="left:458.60px;width:30px;text-align:center;top:307.94px;font-size:10px;color:#464646;font-weight:normal;letter-spacing:0.2px;word-spacing:0px;transform:scaleX(0.88);transform-origin:50% 0">24</div>
<div class="t" style="left:476.90px;width:30px;text-align:center;top:307.99px;font-size:11px;color:#464646;font-weight:normal;letter-spacing:0.3px;word-spacing:0px">25</div>
<div class="t" style="left:496.60px;width:30px;text-align:center;top:307.94px;font-size:10px;color:#464646;font-weight:normal;letter-spacing:0.2px;word-spacing:0px;transform:scaleX(0.88);transform-origin:50% 0">26</div>
<div class="t" style="left:515.60px;width:30px;text-align:center;top:307.94px;font-size:10px;color:#464646;font-weight:normal;letter-spacing:0.2px;word-spacing:0px;transform:scaleX(0.88);transform-origin:50% 0">27</div>
<div class="t" style="left:534.60px;width:30px;text-align:center;top:307.94px;font-size:10px;color:#464646;font-weight:normal;letter-spacing:0.2px;word-spacing:0px;transform:scaleX(0.88);transform-origin:50% 0">28</div>
<div class="t" style="left:553.60px;width:30px;text-align:center;top:307.94px;font-size:10px;color:#464646;font-weight:normal;letter-spacing:0.2px;word-spacing:0px;transform:scaleX(0.88);transform-origin:50% 0">29</div>
<div class="t" style="left:572.60px;width:30px;text-align:center;top:307.94px;font-size:10px;color:#464646;font-weight:normal;letter-spacing:0.2px;word-spacing:0px;transform:scaleX(0.88);transform-origin:50% 0">30</div>
<div class="t" style="left:591.60px;width:30px;text-align:center;top:307.94px;font-size:10px;color:#464646;font-weight:normal;letter-spacing:0.2px;word-spacing:0px;transform:scaleX(0.88);transform-origin:50% 0">31</div>
<div class="t" style="left:610.60px;width:30px;text-align:center;top:307.94px;font-size:10px;color:#464646;font-weight:normal;letter-spacing:0.2px;word-spacing:0px;transform:scaleX(0.88);transform-origin:50% 0">32</div>
<div class="t" style="left:629.60px;width:30px;text-align:center;top:307.94px;font-size:10px;color:#464646;font-weight:normal;letter-spacing:0.2px;word-spacing:0px;transform:scaleX(0.88);transform-origin:50% 0">33</div>
<div class="t" style="left:21.60px;width:30px;text-align:center;top:432.94px;font-size:10px;color:#464646;font-weight:normal;letter-spacing:0.2px;word-spacing:0px;transform:scaleX(0.88);transform-origin:50% 0">27</div>
<div class="t" style="left:40.60px;width:30px;text-align:center;top:432.94px;font-size:10px;color:#f0365e;font-weight:normal;letter-spacing:0.2px;word-spacing:0px;transform:scaleX(0.88);transform-origin:50% 0">28</div>
<div class="t" style="left:59.60px;width:30px;text-align:center;top:432.94px;font-size:10px;color:#f0365e;font-weight:normal;letter-spacing:0.2px;word-spacing:0px;transform:scaleX(0.88);transform-origin:50% 0">29</div>
<div class="t" style="left:78.60px;width:30px;text-align:center;top:432.94px;font-size:10px;color:#464646;font-weight:normal;letter-spacing:0.2px;word-spacing:0px;transform:scaleX(0.88);transform-origin:50% 0">30</div>
<div class="t" style="left:97.60px;width:30px;text-align:center;top:432.94px;font-size:10px;color:#464646;font-weight:normal;letter-spacing:0.2px;word-spacing:0px;transform:scaleX(0.88);transform-origin:50% 0">01</div>
<div class="t" style="left:116.60px;width:30px;text-align:center;top:432.94px;font-size:10px;color:#464646;font-weight:normal;letter-spacing:0.2px;word-spacing:0px;transform:scaleX(0.88);transform-origin:50% 0">02</div>
<div class="t" style="left:135.60px;width:30px;text-align:center;top:432.94px;font-size:10px;color:#464646;font-weight:normal;letter-spacing:0.2px;word-spacing:0px;transform:scaleX(0.88);transform-origin:50% 0">03</div>
<div class="t" style="left:154.60px;width:30px;text-align:center;top:432.94px;font-size:10px;color:#464646;font-weight:normal;letter-spacing:0.2px;word-spacing:0px;transform:scaleX(0.88);transform-origin:50% 0">04</div>
<div class="t" style="left:173.60px;width:30px;text-align:center;top:432.94px;font-size:10px;color:#f0365e;font-weight:normal;letter-spacing:0.2px;word-spacing:0px;transform:scaleX(0.88);transform-origin:50% 0">05</div>
<div class="t" style="left:192.60px;width:30px;text-align:center;top:432.94px;font-size:10px;color:#f0365e;font-weight:normal;letter-spacing:0.2px;word-spacing:0px;transform:scaleX(0.88);transform-origin:50% 0">06</div>
<div class="t" style="left:211.60px;width:30px;text-align:center;top:432.94px;font-size:10px;color:#464646;font-weight:normal;letter-spacing:0.2px;word-spacing:0px;transform:scaleX(0.88);transform-origin:50% 0">07</div>
<div class="t" style="left:230.60px;width:30px;text-align:center;top:432.94px;font-size:10px;color:#464646;font-weight:normal;letter-spacing:0.2px;word-spacing:0px;transform:scaleX(0.88);transform-origin:50% 0">08</div>
<div class="t" style="left:249.60px;width:30px;text-align:center;top:432.94px;font-size:10px;color:#464646;font-weight:normal;letter-spacing:0.2px;word-spacing:0px;transform:scaleX(0.88);transform-origin:50% 0">09</div>
<div class="t" style="left:268.60px;width:30px;text-align:center;top:432.94px;font-size:10px;color:#464646;font-weight:normal;letter-spacing:0.2px;word-spacing:0px;transform:scaleX(0.88);transform-origin:50% 0">10</div>
<div class="t" style="left:287.60px;width:30px;text-align:center;top:432.94px;font-size:10px;color:#464646;font-weight:normal;letter-spacing:0.2px;word-spacing:0px;transform:scaleX(0.88);transform-origin:50% 0">11</div>
<div class="t" style="left:306.60px;width:30px;text-align:center;top:432.94px;font-size:10px;color:#f0365e;font-weight:normal;letter-spacing:0.2px;word-spacing:0px;transform:scaleX(0.88);transform-origin:50% 0">12</div>
<div class="t" style="left:325.60px;width:30px;text-align:center;top:432.94px;font-size:10px;color:#f0365e;font-weight:normal;letter-spacing:0.2px;word-spacing:0px;transform:scaleX(0.88);transform-origin:50% 0">13</div>
<div class="t" style="left:344.60px;width:30px;text-align:center;top:432.94px;font-size:10px;color:#464646;font-weight:normal;letter-spacing:0.2px;word-spacing:0px;transform:scaleX(0.88);transform-origin:50% 0">14</div>
<div class="t" style="left:363.60px;width:30px;text-align:center;top:432.94px;font-size:10px;color:#464646;font-weight:normal;letter-spacing:0.2px;word-spacing:0px;transform:scaleX(0.88);transform-origin:50% 0">15</div>
<div class="t" style="left:382.60px;width:30px;text-align:center;top:432.94px;font-size:10px;color:#464646;font-weight:normal;letter-spacing:0.2px;word-spacing:0px;transform:scaleX(0.88);transform-origin:50% 0">16</div>
<div class="t" style="left:401.60px;width:30px;text-align:center;top:432.94px;font-size:10px;color:#464646;font-weight:normal;letter-spacing:0.2px;word-spacing:0px;transform:scaleX(0.88);transform-origin:50% 0">17</div>
<div class="t" style="left:420.60px;width:30px;text-align:center;top:432.94px;font-size:10px;color:#464646;font-weight:normal;letter-spacing:0.2px;word-spacing:0px;transform:scaleX(0.88);transform-origin:50% 0">18</div>
<div class="t" style="left:439.60px;width:30px;text-align:center;top:432.94px;font-size:10px;color:#f0365e;font-weight:normal;letter-spacing:0.2px;word-spacing:0px;transform:scaleX(0.88);transform-origin:50% 0">19</div>
<div class="t" style="left:458.60px;width:30px;text-align:center;top:432.94px;font-size:10px;color:#f0365e;font-weight:normal;letter-spacing:0.2px;word-spacing:0px;transform:scaleX(0.88);transform-origin:50% 0">20</div>
<div class="t" style="left:476.90px;width:30px;text-align:center;top:431.89px;font-size:11px;color:#464646;font-weight:normal;letter-spacing:0.3px;word-spacing:0px">21</div>
<div class="t" style="left:496.60px;width:30px;text-align:center;top:432.94px;font-size:10px;color:#464646;font-weight:normal;letter-spacing:0.2px;word-spacing:0px;transform:scaleX(0.88);transform-origin:50% 0">22</div>
<div class="t" style="left:515.60px;width:30px;text-align:center;top:432.94px;font-size:10px;color:#464646;font-weight:normal;letter-spacing:0.2px;word-spacing:0px;transform:scaleX(0.88);transform-origin:50% 0">23</div>
<div class="t" style="left:534.60px;width:30px;text-align:center;top:432.94px;font-size:10px;color:#464646;font-weight:normal;letter-spacing:0.2px;word-spacing:0px;transform:scaleX(0.88);transform-origin:50% 0">24</div>
<div class="t" style="left:553.60px;width:30px;text-align:center;top:432.94px;font-size:10px;color:#464646;font-weight:normal;letter-spacing:0.2px;word-spacing:0px;transform:scaleX(0.88);transform-origin:50% 0">25</div>
<div class="t" style="left:572.60px;width:30px;text-align:center;top:432.94px;font-size:10px;color:#f0365e;font-weight:normal;letter-spacing:0.2px;word-spacing:0px;transform:scaleX(0.88);transform-origin:50% 0">26</div>
<div class="t" style="left:591.60px;width:30px;text-align:center;top:432.94px;font-size:10px;color:#f0365e;font-weight:normal;letter-spacing:0.2px;word-spacing:0px;transform:scaleX(0.88);transform-origin:50% 0">27</div>
<div class="t" style="left:610.60px;width:30px;text-align:center;top:432.94px;font-size:10px;color:#464646;font-weight:normal;letter-spacing:0.2px;word-spacing:0px;transform:scaleX(0.88);transform-origin:50% 0">28</div>
<div class="t" style="left:629.60px;width:30px;text-align:center;top:432.94px;font-size:10px;color:#464646;font-weight:normal;letter-spacing:0.2px;word-spacing:0px;transform:scaleX(0.88);transform-origin:50% 0">29</div>
<div class="t" style="left:27.50px;top:447.19px;font-size:11px;color:#464646;font-weight:normal;letter-spacing:-0.3px;word-spacing:0px">Ноябрь</div>
<div class="t" style="left:107.50px;top:447.19px;font-size:11px;color:#464646;font-weight:normal;letter-spacing:0px;word-spacing:0px">Декабрь</div>
<div class="t" style="left:54.20px;top:11.14px;font-size:10px;color:#464646;font-weight:normal;letter-spacing:-0.5px;word-spacing:0.3px">Средняя t°&nbsp; 1 фаза</div>
<div class="t" style="left:138.50px;top:9.89px;font-size:11px;color:#464646;font-weight:normal;letter-spacing:0.3px;word-spacing:0px">35.9 °C</div>
<div class="t" style="left:399.50px;top:11.14px;font-size:10px;color:#464646;font-weight:normal;letter-spacing:-0.5px;word-spacing:1.0px">2 фаза</div>
<div class="t" style="left:433.50px;top:9.89px;font-size:11px;color:#464646;font-weight:normal;letter-spacing:0.4px;word-spacing:0px">36.2 °C</div>
<div class="t" style="left:489.30px;top:11.14px;font-size:10px;color:#464646;font-weight:normal;letter-spacing:-0.5px;word-spacing:1.0px">Разница t°</div>
<div class="t" style="left:538.30px;top:9.89px;font-size:11px;color:#464646;font-weight:normal;letter-spacing:0.3px;word-spacing:0px">0.3 °C</div>
<div class="t" style="left:382.60px;width:30px;text-align:center;top:35.14px;font-size:10px;color:#464646;font-weight:normal;letter-spacing:0.2px;word-spacing:0px;transform:scaleX(0.88);transform-origin:50% 0">01</div>
<div class="t" style="left:401.60px;width:30px;text-align:center;top:35.14px;font-size:10px;color:#464646;font-weight:normal;letter-spacing:0.2px;word-spacing:0px;transform:scaleX(0.88);transform-origin:50% 0">02</div>
<div class="t" style="left:420.60px;width:30px;text-align:center;top:35.14px;font-size:10px;color:#464646;font-weight:normal;letter-spacing:0.2px;word-spacing:0px;transform:scaleX(0.88);transform-origin:50% 0">03</div>
<div class="t" style="left:439.60px;width:30px;text-align:center;top:35.14px;font-size:10px;color:#464646;font-weight:normal;letter-spacing:0.2px;word-spacing:0px;transform:scaleX(0.88);transform-origin:50% 0">04</div>
<div class="t" style="left:458.60px;width:30px;text-align:center;top:35.14px;font-size:10px;color:#464646;font-weight:normal;letter-spacing:0.2px;word-spacing:0px;transform:scaleX(0.88);transform-origin:50% 0">05</div>
<div class="t" style="left:477.60px;width:30px;text-align:center;top:35.14px;font-size:10px;color:#464646;font-weight:normal;letter-spacing:0.2px;word-spacing:0px;transform:scaleX(0.88);transform-origin:50% 0">06</div>
<div class="t" style="left:496.60px;width:30px;text-align:center;top:35.14px;font-size:10px;color:#464646;font-weight:normal;letter-spacing:0.2px;word-spacing:0px;transform:scaleX(0.88);transform-origin:50% 0">07</div>
<div class="t" style="left:515.60px;width:30px;text-align:center;top:35.14px;font-size:10px;color:#464646;font-weight:normal;letter-spacing:0.2px;word-spacing:0px;transform:scaleX(0.88);transform-origin:50% 0">08</div>
<div class="t" style="left:534.60px;width:30px;text-align:center;top:35.14px;font-size:10px;color:#464646;font-weight:normal;letter-spacing:0.2px;word-spacing:0px;transform:scaleX(0.88);transform-origin:50% 0">09</div>
<div class="t" style="left:553.60px;width:30px;text-align:center;top:35.14px;font-size:10px;color:#464646;font-weight:normal;letter-spacing:0.2px;word-spacing:0px;transform:scaleX(0.88);transform-origin:50% 0">10</div>
<div class="t" style="left:572.60px;width:30px;text-align:center;top:35.14px;font-size:10px;color:#464646;font-weight:normal;letter-spacing:0.2px;word-spacing:0px;transform:scaleX(0.88);transform-origin:50% 0">11</div>
<div class="t" style="left:591.60px;width:30px;text-align:center;top:35.14px;font-size:10px;color:#464646;font-weight:normal;letter-spacing:0.2px;word-spacing:0px;transform:scaleX(0.88);transform-origin:50% 0">12</div>
<div class="t" style="left:610.60px;width:30px;text-align:center;top:35.14px;font-size:10px;color:#464646;font-weight:normal;letter-spacing:0.2px;word-spacing:0px;transform:scaleX(0.88);transform-origin:50% 0">13</div>
<div class="t" style="left:629.60px;width:30px;text-align:center;top:35.14px;font-size:10px;color:#464646;font-weight:normal;letter-spacing:0.2px;word-spacing:0px;transform:scaleX(0.88);transform-origin:50% 0">14</div>
<div class="t" style="left:379.5px;top:61.2px;font-size:10px;color:#3c3c3c;transform:translate(-50%,-50%) rotate(-90deg);letter-spacing:-0.25px">ОВУЛЯЦИЯ</div>
<div class="t" style="left:-8.30px;width:30px;text-align:right;top:1.34px;font-size:12px;color:#464646;font-weight:normal;letter-spacing:0px;word-spacing:0px">°C</div>
<div class="t" style="left:5.00px;top:25.83px;font-size:10px;color:#464646;font-weight:normal;letter-spacing:0.3px;word-spacing:0px;transform:scaleX(0.87);transform-origin:0 0">36.9</div>
<div class="t" style="left:5.00px;top:46.83px;font-size:10px;color:#464646;font-weight:normal;letter-spacing:0.3px;word-spacing:0px;transform:scaleX(0.87);transform-origin:0 0">36.8</div>
<div class="t" style="left:5.00px;top:67.83px;font-size:10px;color:#464646;font-weight:normal;letter-spacing:0.3px;word-spacing:0px;transform:scaleX(0.87);transform-origin:0 0">36.7</div>
<div class="t" style="left:5.00px;top:88.83px;font-size:10px;color:#464646;font-weight:normal;letter-spacing:0.3px;word-spacing:0px;transform:scaleX(0.87);transform-origin:0 0">36.6</div>
<div class="t" style="left:5.00px;top:109.83px;font-size:10px;color:#464646;font-weight:normal;letter-spacing:0.3px;word-spacing:0px;transform:scaleX(0.87);transform-origin:0 0">36.5</div>
<div class="t" style="left:5.00px;top:130.84px;font-size:10px;color:#464646;font-weight:normal;letter-spacing:0.3px;word-spacing:0px;transform:scaleX(0.87);transform-origin:0 0">36.4</div>
<div class="t" style="left:5.00px;top:151.84px;font-size:10px;color:#464646;font-weight:normal;letter-spacing:0.3px;word-spacing:0px;transform:scaleX(0.87);transform-origin:0 0">36.3</div>
<div class="t" style="left:5.00px;top:172.84px;font-size:10px;color:#464646;font-weight:normal;letter-spacing:0.3px;word-spacing:0px;transform:scaleX(0.87);transform-origin:0 0">36.2</div>
<div class="t" style="left:5.00px;top:193.84px;font-size:10px;color:#464646;font-weight:normal;letter-spacing:0.3px;word-spacing:0px;transform:scaleX(0.87);transform-origin:0 0">36.1</div>
<div class="t" style="left:5.00px;top:214.84px;font-size:10px;color:#464646;font-weight:normal;letter-spacing:0.3px;word-spacing:0px;transform:scaleX(0.87);transform-origin:0 0">36</div>
<div class="t" style="left:5.00px;top:235.84px;font-size:10px;color:#464646;font-weight:normal;letter-spacing:0.3px;word-spacing:0px;transform:scaleX(0.87);transform-origin:0 0">35.9</div>
<div class="t" style="left:5.00px;top:256.84px;font-size:10px;color:#464646;font-weight:normal;letter-spacing:0.3px;word-spacing:0px;transform:scaleX(0.87);transform-origin:0 0">35.8</div>
<div class="t" style="left:5.00px;top:277.84px;font-size:10px;color:#464646;font-weight:normal;letter-spacing:0.3px;word-spacing:0px;transform:scaleX(0.87);transform-origin:0 0">35.7</div>
<div class="t" style="left:5.00px;top:298.84px;font-size:10px;color:#464646;font-weight:normal;letter-spacing:0.3px;word-spacing:0px;transform:scaleX(0.87);transform-origin:0 0">35.6</div>
<div class="t" style="left:31.50px;top:480.19px;font-size:11px;color:#161616;font-weight:bold;letter-spacing:-0.25px;word-spacing:0px">Менструация</div>
<div class="t" style="left:185.50px;top:480.19px;font-size:11px;color:#161616;font-weight:bold;letter-spacing:-0.25px;word-spacing:0px">Тест на овуляцию</div>
<div class="t" style="left:315.00px;top:480.19px;font-size:11px;color:#161616;font-weight:bold;letter-spacing:-0.25px;word-spacing:0px">Тест на беременность</div>
<div class="t" style="left:471.50px;top:480.19px;font-size:11px;color:#161616;font-weight:bold;letter-spacing:-0.25px;word-spacing:0px">Цервикальная жидкость</div>
<div class="t" style="left:50.70px;top:499.89px;font-size:11px;color:#1f1f1f;font-weight:normal;letter-spacing:-0.4px;word-spacing:0.6px">Менструация</div>
<div class="t" style="left:50.70px;top:520.89px;font-size:11px;color:#1f1f1f;font-weight:normal;letter-spacing:-0.4px;word-spacing:0.6px">Небольшие выделения</div>
<div class="t" style="left:205.00px;top:499.89px;font-size:11px;color:#1f1f1f;font-weight:normal;letter-spacing:-0.4px;word-spacing:0.6px">Положительный</div>
<div class="t" style="left:205.00px;top:520.89px;font-size:11px;color:#1f1f1f;font-weight:normal;letter-spacing:-0.4px;word-spacing:0.6px">Отрицательный</div>
<div class="t" style="left:335.00px;top:499.89px;font-size:11px;color:#1f1f1f;font-weight:normal;letter-spacing:-0.4px;word-spacing:0.6px">Положительный</div>
<div class="t" style="left:335.00px;top:520.89px;font-size:11px;color:#1f1f1f;font-weight:normal;letter-spacing:-0.4px;word-spacing:0.6px">Отрицательный</div>
<div class="t" style="left:335.00px;top:540.49px;font-size:11px;color:#1f1f1f;font-weight:normal;letter-spacing:-0.4px;word-spacing:0.6px">Слабоположительный</div>
<div class="t" style="left:491.00px;top:501.89px;font-size:11px;color:#1f1f1f;font-weight:normal;letter-spacing:-0.2px;word-spacing:0.6px">Сухо</div>
<div class="t" style="left:491.00px;top:522.09px;font-size:11px;color:#1f1f1f;font-weight:normal;letter-spacing:-0.2px;word-spacing:0.6px">Клейкая</div>
<div class="t" style="left:491.00px;top:542.09px;font-size:11px;color:#1f1f1f;font-weight:normal;letter-spacing:-0.2px;word-spacing:0.6px">Кремообразная</div>
<div class="t" style="left:491.00px;top:561.89px;font-size:11px;color:#1f1f1f;font-weight:normal;letter-spacing:-0.2px;word-spacing:0.6px">Водянистая</div>
<div class="t" style="left:491.00px;top:581.49px;font-size:11px;color:#1f1f1f;font-weight:normal;letter-spacing:-0.2px;word-spacing:0.6px">Яичный белок</div>
<div class="t" style="left:50.80px;top:581.99px;font-size:11px;color:#1f1f1f;font-weight:normal;letter-spacing:-0.4px;word-spacing:0.6px">Половой акт</div>
<div class="t" style="left:150.80px;top:581.99px;font-size:11px;color:#1f1f1f;font-weight:normal;letter-spacing:-0.4px;word-spacing:0.6px">Прием лекарств</div>
<div class="t" style="left:271.20px;top:581.99px;font-size:11px;color:#1f1f1f;font-weight:normal;letter-spacing:-0.4px;word-spacing:0.6px">Лунный календарь</div>
</div>
</body></html>
